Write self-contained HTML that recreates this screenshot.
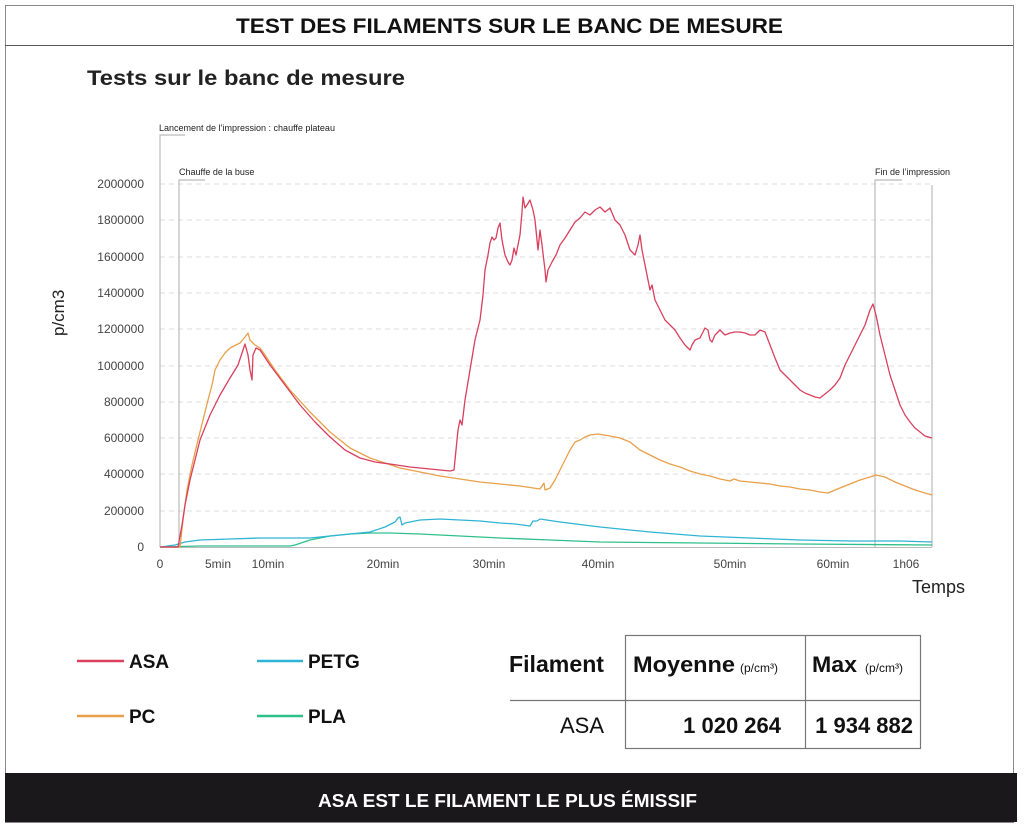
<!DOCTYPE html>
<html><head><meta charset="utf-8"><style>
html,body{margin:0;padding:0;background:#fff;}
svg{display:block;}
text{font-family:"Liberation Sans",sans-serif;}
</style></head><body>
<svg width="1024" height="830" viewBox="0 0 1024 830" xmlns="http://www.w3.org/2000/svg">
<rect x="0" y="0" width="1024" height="830" fill="#fff"/>
<rect x="5.5" y="5.5" width="1008" height="817" fill="none" stroke="#888" stroke-width="1"/>
<line x1="5" y1="45.5" x2="1013" y2="45.5" stroke="#555" stroke-width="1"/>
<text x="236" y="33" font-size="21" font-weight="bold" fill="#111" textLength="547" lengthAdjust="spacingAndGlyphs">TEST DES FILAMENTS SUR LE BANC DE MESURE</text>
<text x="87" y="85" font-size="21" font-weight="bold" fill="#222" textLength="318" lengthAdjust="spacingAndGlyphs">Tests sur le banc de mesure</text>

<g stroke="#ddd" stroke-width="1" stroke-dasharray="5,4">
<line x1="160" y1="184" x2="932" y2="184"/><line x1="160" y1="220" x2="932" y2="220"/>
<line x1="160" y1="257" x2="932" y2="257"/><line x1="160" y1="293" x2="932" y2="293"/>
<line x1="160" y1="329" x2="932" y2="329"/><line x1="160" y1="366" x2="932" y2="366"/>
<line x1="160" y1="402" x2="932" y2="402"/><line x1="160" y1="438" x2="932" y2="438"/>
<line x1="160" y1="474" x2="932" y2="474"/><line x1="160" y1="511" x2="932" y2="511"/>
</g>
<line x1="160" y1="547.5" x2="932" y2="547.5" stroke="#bbb"/>
<g font-size="12" fill="#444" text-anchor="end">
<text x="144" y="188">2000000</text><text x="144" y="224">1800000</text><text x="144" y="261">1600000</text>
<text x="144" y="297">1400000</text><text x="144" y="333">1200000</text><text x="144" y="370">1000000</text>
<text x="144" y="406">800000</text><text x="144" y="442">600000</text><text x="144" y="478">400000</text>
<text x="144" y="515">200000</text><text x="144" y="551">0</text>
</g>
<g font-size="12" fill="#444" text-anchor="middle">
<text x="160" y="568">0</text><text x="218" y="568">5min</text><text x="268" y="568">10min</text>
<text x="383" y="568">20min</text><text x="489" y="568">30min</text><text x="598" y="568">40min</text>
<text x="730" y="568">50min</text><text x="833" y="568">60min</text><text x="906" y="568">1h06</text>
</g>
<text x="912" y="593" font-size="18" fill="#222">Temps</text>
<text transform="translate(64,336) rotate(-90)" font-size="17" fill="#222">p/cm3</text>

<g stroke="#bbb" stroke-width="1.2" fill="none">
<polyline points="185,135 160,135 160,547"/>
<polyline points="205,180 179,180 179,547"/>
<polyline points="902,180 875,180 875,547"/>
<line x1="932" y1="185" x2="932" y2="547"/>
</g>
<g font-size="9" fill="#222">
<text x="159" y="131">Lancement de l’impression : chauffe plateau</text>
<text x="179" y="175">Chauffe de la buse</text>
<text x="875" y="175">Fin de l’impression</text>
</g>

<g fill="none" stroke-width="1.3" stroke-linejoin="round">
<polyline stroke="#2ec08a" points="160,547 200,546 250,546 290,546 295,545 310,540 330,536 350,534 370,533 390,533 420,534 460,536 500,538 550,540 600,542 700,543 800,544 932,545"/>
<polyline stroke="#2fb4d4" points="160,547 175,545 185,542 200,540 230,539 260,538 290,538 310,538 330,536 350,534 370,532 385,527 395,522 398,518 400,517 402,525 405,523 420,520 440,519 460,520 480,521 500,523 515,524 530,526 533,521 537,521 540,519 560,522 600,527 650,532 700,536 750,538 800,540 850,541 900,541 932,542"/>
<polyline stroke="#e8a04a" points="160,547 180,547 183,520 187,490 192,465 198,440 203,420 208,400 212,385 215,370 220,360 225,353 230,348 240,343 245,337 248,333 250,340 255,345 260,348 265,355 275,370 290,390 310,412 330,432 350,448 370,458 385,463 400,468 420,472 440,476 460,479 480,482 500,484 520,486 540,489 544,483 545,490 550,488 555,480 560,470 565,460 570,450 575,442 580,440 585,437 590,435 598,434 610,436 620,438 630,442 640,450 650,455 660,460 670,464 680,467 690,471 700,474 710,476 720,479 730,481 734,479 740,481 750,482 760,483 770,484 780,486 790,487 800,489 810,490 820,492 828,493 835,490 840,488 850,484 860,480 870,477 876,475 885,477 895,482 905,486 915,490 925,493 932,495"/>
<polyline stroke="#d9405e" points="160,547 178,547 182,525 185,505 190,480 195,460 200,440 210,415 220,395 230,378 238,365 243,350 245,344 248,355 250,370 252,380 253,355 256,348 260,350 270,365 285,385 300,405 315,422 330,437 345,450 360,458 375,462 390,464 410,467 430,469 450,471 454,470 458,430 460,420 462,425 465,400 470,370 475,340 480,320 483,295 485,270 488,255 490,243 492,237 494,240 496,238 498,228 500,223 502,240 505,255 508,262 510,265 512,260 514,248 516,255 518,245 520,235 522,212 523,197 525,208 527,205 530,200 533,210 535,220 537,240 538,250 540,230 542,245 545,270 546,282 548,270 552,262 556,255 560,245 565,238 570,230 575,222 580,218 585,212 590,215 595,210 600,207 605,212 610,208 615,220 620,225 625,235 630,250 635,255 638,245 640,235 642,250 645,265 648,280 650,290 652,285 655,300 660,310 665,320 670,325 675,330 680,338 685,345 690,350 692,345 695,340 700,338 705,328 708,330 710,340 712,342 715,335 720,330 725,335 730,333 735,332 740,332 745,333 750,335 755,335 760,330 765,332 770,345 775,358 780,370 785,375 790,380 795,385 800,390 805,393 810,395 815,397 820,398 825,394 830,390 835,385 840,378 845,365 850,355 855,345 860,335 865,325 870,310 873,304 876,315 880,335 885,355 890,375 895,390 900,405 905,415 910,422 915,428 920,432 925,436 932,438"/>
</g>

<g stroke-width="2.5">
<line x1="77" y1="661" x2="124" y2="661" stroke="#d9405e"/>
<line x1="257" y1="661" x2="303" y2="661" stroke="#2fb4d4"/>
<line x1="77" y1="716" x2="124" y2="716" stroke="#e8a04a"/>
<line x1="257" y1="716" x2="303" y2="716" stroke="#2ec08a"/>
</g>
<g font-size="19" font-weight="bold" fill="#111">
<text x="129" y="668">ASA</text><text x="308" y="668">PETG</text>
<text x="129" y="723">PC</text><text x="308" y="723">PLA</text>
</g>

<g stroke="#777" stroke-width="1.2" fill="none">
<rect x="625.5" y="635.5" width="295" height="113"/>
<line x1="805.5" y1="635" x2="805.5" y2="748"/>
<line x1="510" y1="700.5" x2="921" y2="700.5"/>
</g>
<g fill="#111">
<text x="509" y="672" font-size="23" font-weight="bold" textLength="95" lengthAdjust="spacingAndGlyphs">Filament</text>
<text x="633" y="672" font-size="22" font-weight="bold" textLength="102" lengthAdjust="spacingAndGlyphs">Moyenne</text>
<text x="740" y="672" font-size="12">(p/cm³)</text>
<text x="812" y="672" font-size="22" font-weight="bold" textLength="45" lengthAdjust="spacingAndGlyphs">Max</text>
<text x="865" y="672" font-size="12">(p/cm³)</text>
<text x="604" y="733" text-anchor="end" font-size="22">ASA</text>
<text x="781" y="733" text-anchor="end" font-size="22" font-weight="bold">1 020 264</text>
<text x="913" y="733" text-anchor="end" font-size="22" font-weight="bold">1 934 882</text>
</g>

<rect x="5" y="773" width="1012" height="49" fill="#1a181b"/>
<text x="318" y="807" font-size="18" font-weight="bold" fill="#fff" textLength="379" lengthAdjust="spacingAndGlyphs">ASA EST LE FILAMENT LE PLUS ÉMISSIF</text>
</svg>
</body></html>
